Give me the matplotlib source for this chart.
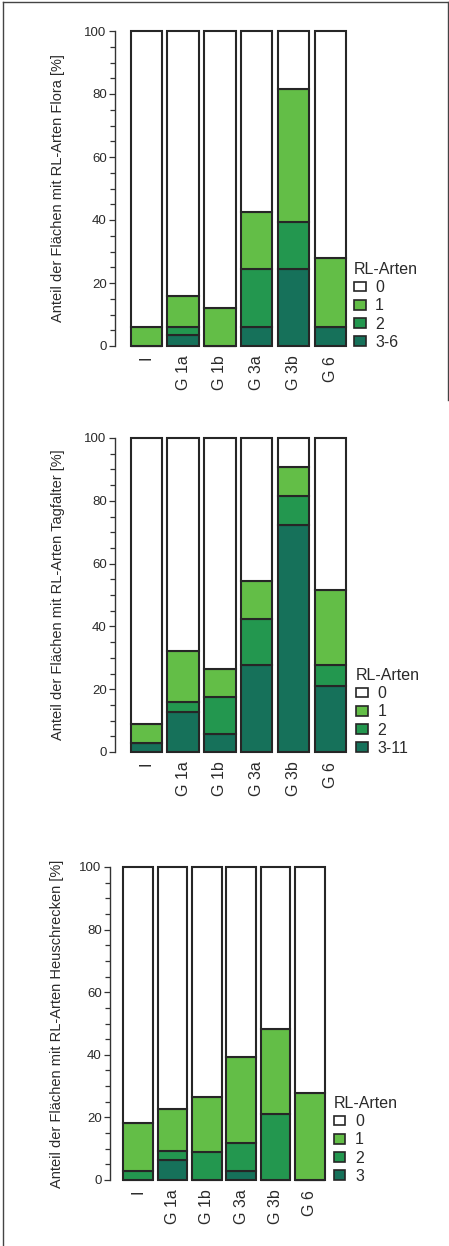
import numpy as np
import matplotlib
matplotlib.use("Agg")
import matplotlib.pyplot as plt
from matplotlib.patches import Patch
from matplotlib.lines import Line2D
from matplotlib.ticker import MultipleLocator

plt.rcParams["font.family"] = ["Liberation Sans", "DejaVu Sans"]

groups = ["I", "G 1a", "G 1b", "G 3a", "G 3b", "G 6"]

# Anteil der Flaechen [%] je Anzahl RL-Arten (Rest = 0 Arten)
flora_high = [0, 3.5, 0, 6, 24.3, 6]
flora_two = [0, 2.5, 0, 18.3, 15.2, 0]
flora_one = [6, 10, 12, 18.2, 42, 21.8]

falter_high = [3, 12.6, 5.8, 27.6, 72.4, 21]
falter_two = [0, 3.3, 11.7, 14.8, 9, 6.6]
falter_one = [6, 16.4, 8.9, 12.2, 9.4, 23.9]

heu_high = [0, 6.4, 0, 2.9, 0, 0]
heu_two = [3, 2.9, 8.8, 9, 21, 0]
heu_one = [15.1, 13.3, 17.8, 27.5, 27.4, 27.7]

c_zero = "white"
c_one = "#63be47"
c_two = "#23974f"
c_high = "#16715a"
edge = "#262626"
txt = "#2a2a2a"

W, H = 449, 1246
fig = plt.figure(figsize=(W / 100, H / 100), dpi=100)


def px_axes(left, right, top, bottom):
    return fig.add_axes([left / W, 1 - bottom / H, (right - left) / W, (bottom - top) / H])


def panel(ax, high, two, one, high_label, ylabel, width, xlim, leg_x):
    x = np.arange(len(groups))
    high = np.array(high)
    two = np.array(two)
    one = np.array(one)
    zero = 100 - high - two - one
    bottom = np.zeros(len(groups))
    for vals, col in [(high, c_high), (two, c_two), (one, c_one), (zero, c_zero)]:
        ax.bar(x, vals, width, bottom=bottom, color=col, edgecolor=edge,
               linewidth=1.5, clip_on=False, zorder=3)
        bottom += vals

    ax.set_xlim(*xlim)
    ax.set_ylim(0, 100)
    for s in ["top", "right", "bottom"]:
        ax.spines[s].set_visible(False)
    ax.spines["left"].set_color("#333333")
    ax.spines["left"].set_linewidth(1.0)
    ax.yaxis.set_major_locator(MultipleLocator(20))
    ax.yaxis.set_minor_locator(MultipleLocator(5))
    ax.tick_params(axis="y", which="major", length=4, width=0.9, color="#333333",
                   labelsize=9.5, pad=2, labelcolor=txt)
    ax.tick_params(axis="y", which="minor", length=3.5, width=0.9, color="#333333")
    ax.set_xticks(x)
    ax.set_xticklabels(groups, rotation=90, fontsize=11.5, color=txt)
    ax.tick_params(axis="x", length=0, pad=7)

    ax.set_ylabel(ylabel, fontsize=10.5, color=txt)
    ax.yaxis.label.set_verticalalignment("center")

    handles = [Patch(facecolor=c, edgecolor=edge, linewidth=1.2)
               for c in [c_zero, c_one, c_two, c_high]]
    leg = ax.legend(handles, ["0", "1", "2", high_label], title="RL-Arten",
                    loc="lower left", bbox_to_anchor=(leg_x, -0.012),
                    frameon=False, fontsize=11.5, title_fontsize=11.5,
                    handlelength=0.75, handleheight=0.55, handletextpad=0.6,
                    labelspacing=0.2, borderpad=0, borderaxespad=0,
                    alignment="left")
    leg._legend_box.sep = 2
    for t in leg.get_texts():
        t.set_color(txt)
    leg.get_title().set_color(txt)


ax1 = px_axes(115, 349, 31, 346)
panel(ax1, flora_high, flora_two, flora_one, "3-6",
      "Anteil der Flächen mit RL-Arten Flora [%]", 0.84, (-0.84, 5.49), 1.02)
ax1.yaxis.set_label_coords(-0.245, 0.5)

ax2 = px_axes(115, 349, 438, 752)
panel(ax2, falter_high, falter_two, falter_one, "3-11",
      "Anteil der Flächen mit RL-Arten Tagfalter [%]", 0.84, (-0.84, 5.49), 1.03)
ax2.yaxis.set_label_coords(-0.245, 0.5)

ax3 = px_axes(110, 327, 867, 1180)
panel(ax3, heu_high, heu_two, heu_one, "3",
      "Anteil der Flächen mit RL-Arten Heuschrecken [%]", 0.87, (-0.82, 5.5), 1.03)
ax3.yaxis.set_label_coords(-0.245, 0.5)

# Rahmen
fig.add_artist(Line2D([3 / W, 3 / W], [0, 1 - 2 / H], transform=fig.transFigure,
                      color="#444444", linewidth=1.0))
fig.add_artist(Line2D([3 / W, 448 / W], [1 - 2 / H, 1 - 2 / H], transform=fig.transFigure,
                      color="#444444", linewidth=1.0))
fig.add_artist(Line2D([448 / W, 448 / W], [1 - 2 / H, 1 - 400 / H], transform=fig.transFigure,
                      color="#444444", linewidth=1.0))

fig.savefig("out.png", dpi=100)
